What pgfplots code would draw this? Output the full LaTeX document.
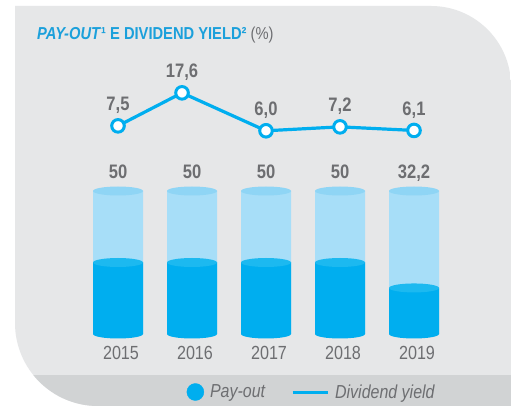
\documentclass[border=0pt]{standalone}
\usepackage{fontspec}
\setmainfont{Liberation Sans}[FakeStretch=0.85]
\usepackage{pgfplots}
\pgfplotsset{compat=1.18}
\usepackage{pgfplotstable}

\definecolor{bggray}{HTML}{E6E7E8}
\definecolor{bandgray}{HTML}{D1D3D4}
\definecolor{txtgray}{HTML}{6D6E71}
\definecolor{titleblue}{HTML}{1BA0DB}
\definecolor{cyanmain}{HTML}{00AEEF}
\definecolor{cyanlight}{HTML}{A7DEF8}
\definecolor{cyanlighttop}{HTML}{8FD5F5}
\definecolor{cyantop}{HTML}{1CB9F0}

\pgfdeclareplotmark{cylcap}{\pgfpathellipse{\pgfpointorigin}{\pgfqpoint{25pt}{0pt}}{\pgfqpoint{0pt}{4.5pt}}\pgfusepathqfill}

\pgfplotstableread{
x    base full pay
0    0    100  50
1    0    100  50
2    0    100  50
3    0    100  50
4    0    100  32.2
}\payout

\pgfplotstableread{
x     dy
0     7.5
0.865 17.6
2     6.0
3     7.2
4     6.1
}\yield

\begin{document}
\begin{tikzpicture}
\path[use as bounding box] (0,0) rectangle (511pt,406pt);
\fill[white] (0,0) rectangle (511pt,406pt);
\begin{scope}
\clip (15pt,400pt) -- (431pt,400pt) arc[start angle=90,end angle=0,radius=80pt] -- (511pt,0pt) -- (98pt,0pt) arc[start angle=270,end angle=180,radius=83pt] -- cycle;
\fill[bggray] (0,0) rectangle (511pt,406pt);
\fill[bandgray] (0,0) rectangle (511pt,31pt);
\end{scope}

\node[anchor=base west, inner sep=0pt, font=\bfseries\fontsize{17.3}{17.3}\selectfont, text=titleblue] at (37pt,366pt) {\textit{PAY-OUT}¹ E DIVIDEND YIELD² \textcolor{txtgray}{\mdseries(\%)}};

\begin{axis}[
  at={(7pt,63.42pt)}, anchor=south west,
  x=74pt, y=1.43pt,
  xmin=-1.5, xmax=5.2, ymin=-6, ymax=110,
  clip=false,
  hide y axis,
  axis x line*=bottom,
  x axis line style={draw=none},
  major tick length=0pt,
  xtick={0,1,2,3,4},
  xticklabels={2015,2016,2017,2018,2019},
  xticklabel style={font=\fontsize{19}{19}\selectfont, text=txtgray, xshift=3pt},
  legend columns=2,
  legend cell align=left,
  legend style={at={(0.362,-0.298)}, anchor=west, draw=none, fill=none, inner sep=0pt,
    font=\itshape\fontsize{18.8}{18.8}\selectfont, text=txtgray,
    /tikz/every odd column/.append style={column sep=4pt},
    /tikz/every even column/.append style={column sep=24pt}},
]
\addplot[ybar, bar width=50pt, bar shift=0pt, fill=cyanlight, draw=none, forget plot] table[x=x,y=full]{\payout};
\addplot[only marks, mark=cylcap, mark options={fill=cyanlighttop, draw=none}, forget plot] table[x=x,y=full]{\payout};
\addplot[only marks, mark=cylcap, mark options={fill=cyanmain, draw=none}, forget plot] table[x=x,y=base]{\payout};
\addplot[ybar, bar width=50pt, bar shift=0pt, fill=cyanmain, draw=none, forget plot] table[x=x,y=pay]{\payout};
\addplot[only marks, mark=cylcap, mark options={fill=cyantop, draw=none}, forget plot] table[x=x,y=pay]{\payout};
\addplot[draw=none, mark=none, forget plot, point meta=explicit,
  nodes near coords,
  every node near coord/.append style={anchor=base, yshift=12pt, font=\bfseries\fontsize{19.5}{19.5}\selectfont, text=txtgray},
  /pgf/number format/.cd, use comma, fixed, precision=1, assume math mode=true]
  table[x=x,y=full,meta=pay]{\payout};
\addlegendimage{legend image code/.code={\fill[cyanmain] (8.5pt,0pt) circle (8.5pt);}}
\addlegendentry{Pay-out}
\addlegendimage{legend image code/.code={\draw[cyanmain, line width=3pt] (0pt,0pt) -- (35pt,0pt);}}
\addlegendentry{Dividend yield}
\end{axis}

\begin{axis}[
  at={(7pt,255.6pt)}, anchor=south west,
  x=74pt, y=3.27pt,
  xmin=-1.5, xmax=5.2, ymin=0, ymax=22,
  hide axis, clip=false,
]
\addplot[cyanmain, line width=3.2pt, line join=round,
  mark=*, mark size=6.3pt, mark options={fill=white, draw=cyanmain, line width=3pt},
  point meta=y,
  nodes near coords,
  every node near coord/.append style={anchor=base, yshift=15pt, font=\bfseries\fontsize{19.5}{19.5}\selectfont, text=txtgray},
  /pgf/number format/.cd, use comma, fixed, fixed zerofill, precision=1, assume math mode=true]
  table[x=x,y=dy]{\yield};
\end{axis}
\end{tikzpicture}
\end{document}
